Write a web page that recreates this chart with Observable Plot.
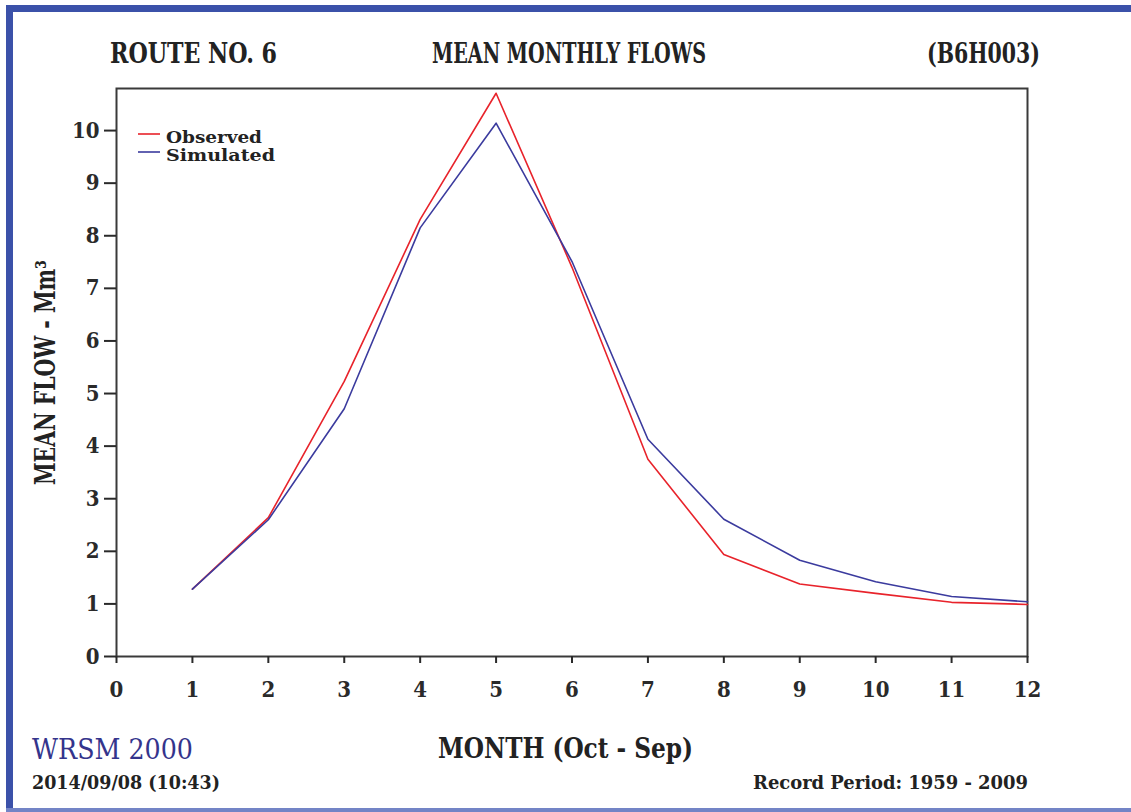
<!DOCTYPE html>
<html><head><meta charset="utf-8">
<script src="https://cdn.jsdelivr.net/npm/d3@7"></script>
<script src="https://cdn.jsdelivr.net/npm/@observablehq/plot@0.6"></script>
<style>
html,body{margin:0;padding:0;background:#fff;}
#wrap{position:relative;width:1131px;height:812px;overflow:hidden;background:#fff;}
#wrap > svg{position:absolute;left:0;top:0;}
</style></head><body><div id="wrap"></div>
<script>
// ---- data ----
const months = [1, 2, 3, 4, 5, 6, 7, 8, 9, 10, 11, 12];
const observed = [1.28, 2.64, 5.23, 8.31, 10.71, 7.40, 3.75, 1.94, 1.38, 1.20, 1.03, 0.99];
const simulated = [1.28, 2.60, 4.71, 8.15, 10.14, 7.51, 4.13, 2.61, 1.83, 1.42, 1.14, 1.04];
const xTicks = [0, 1, 2, 3, 4, 5, 6, 7, 8, 9, 10, 11, 12];
const yTicks = [0, 1, 2, 3, 4, 5, 6, 7, 8, 9, 10];
const seriesNames = ["Observed", "Simulated"];
const seriesColors = ["#e8232b", "#3b3b9e"];
const titleLeft = "ROUTE NO. 6";
const titleCenter = "MEAN MONTHLY FLOWS";
const titleRight = "(B6H003)";
const yLabel = "MEAN FLOW - Mm\u00B3";
const xLabel = "MONTH (Oct - Sep)";
const brand = "WRSM 2000";
const stamp = "2014/09/08 (10:43)";
const period = "Record Period: 1959 - 2009";

const rows = [];
months.forEach((m, i) => {
  rows.push({month: m, flow: observed[i], series: seriesNames[0]});
});
months.forEach((m, i) => {
  rows.push({month: m, flow: simulated[i], series: seriesNames[1]});
});

const serif = "'DejaVu Serif Condensed','DejaVu Serif',serif";

const chart = Plot.plot({
  width: 1131, height: 812,
  marginLeft: 116, marginRight: 104, marginTop: 88, marginBottom: 156,
  style: {background: "transparent", fontFamily: serif, fontSize: "22px", fontWeight: "bold", color: "#2a2a2a", fontStretch: "condensed"},
  x: {domain: [0, 12], label: null},
  y: {domain: [0, 10.8], label: null},
  color: {domain: seriesNames, range: seriesColors},
  marks: [
    Plot.frame({stroke: "#3a3a3a", strokeWidth: 2}),
    Plot.axisX({ticks: xTicks, tickSize: 7, tickPadding: 18, strokeWidth: 2, label: null, tickFormat: d => String(d)}),
    Plot.axisY({ticks: yTicks, tickSize: 12, tickPadding: 5, strokeWidth: 2, label: null, tickFormat: d => String(d)}),
    Plot.line(rows, {x: "month", y: "flow", stroke: "series", z: "series", strokeWidth: 1.6})
  ]
});
document.getElementById("wrap").appendChild(chart);

// ---- overlay: frame border and text ----
const ov = d3.select("#wrap").append("svg").attr("width", 1131).attr("height", 812)
  .style("pointer-events", "none");
ov.append("rect").attr("x", 6).attr("y", 5).attr("width", 1125).attr("height", 7).attr("fill", "#3b51a9");
ov.append("rect").attr("x", 6).attr("y", 5).attr("width", 7).attr("height", 807).attr("fill", "#3b51a9");
ov.append("rect").attr("x", 6).attr("y", 808).attr("width", 1125).attr("height", 4).attr("fill", "#7384c6");

function txt(str, x, y, size, len, opts = {}) {
  const t = ov.append("text")
    .attr("x", x).attr("y", y)
    .attr("font-family", serif)
    .attr("font-size", size)
    .attr("font-weight", opts.weight || "bold")
    .attr("fill", opts.fill || "#222")
    .attr("textLength", len)
    .attr("lengthAdjust", "spacingAndGlyphs")
    .text(str);
  if (opts.transform) t.attr("transform", opts.transform);
  return t;
}
txt(titleLeft, 110, 63, 27, 167);
txt(titleCenter, 432, 63, 27, 274);
txt(titleRight, 927, 63, 27, 113);
txt(yLabel, 0, 0, 27, 225, {transform: "translate(55,485) rotate(-90)"});
txt(xLabel, 438, 758, 28, 255);
txt(brand, 32, 759, 28, 161, {weight: "normal", fill: "#34348c"});
txt(stamp, 32, 789, 19, 188);
txt(period, 753, 789, 19, 275);

// legend
seriesNames.forEach((name, i) => {
  const y = 134 + i * 18;
  ov.append("line").attr("x1", 138).attr("x2", 160).attr("y1", y).attr("y2", y)
    .attr("stroke", seriesColors[i]).attr("stroke-width", 1.6);
  txt(name, 166, y + 9, 17, i === 0 ? 96 : 109);
});
</script>
</body></html>
